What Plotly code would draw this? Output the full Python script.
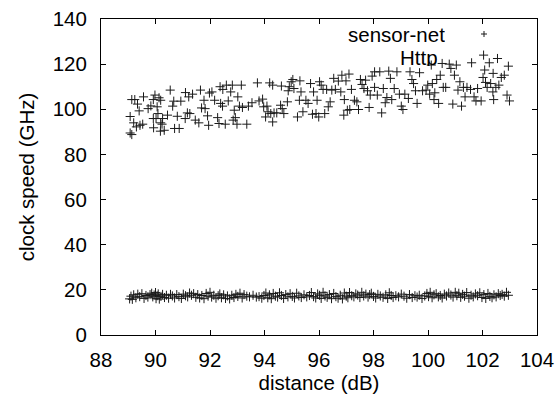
import plotly.graph_objects as go

# upper cloud ("sensor-net"): (distance dB, clock speed GHz)
sensor_net_points = [
    (89.07,89.5),(89.13,88.8),(89.07,96.8),(89.13,104.3),(89.24,104.3),(89.2,94.0),(89.3,92.2),(89.43,92.9),
    (89.53,93.4),(89.4,99.3),(89.34,102.3),(89.56,105.5),(89.73,100.3),(89.83,101.5),(89.92,104.3),(89.98,106.3),
    (89.93,91.8),(89.92,95.9),(90.02,95.9),(90.09,98.1),(90.13,105.1),(90.19,104.0),(90.06,101.1),(90.19,94.0),
    (90.26,95.9),(90.18,90.3),(90.32,90.7),(90.24,93.4),(90.54,108.5),(90.44,97.4),(90.63,101.4),(90.67,103.6),
    (90.7,91.5),(90.87,91.5),(90.8,96.9),(90.93,103.6),(91.1,107.4),(91.09,95.9),(91.17,98.4),(91.26,98.1),
    (91.22,105.5),(91.36,106.7),(91.46,95.2),(91.59,94.0),(91.65,108.5),(91.69,100.6),(91.82,100.3),(91.78,104.0),
    (91.91,97.1),(91.95,92.9),(91.98,107.2),(92.07,107.7),(92.17,104.0),(92.28,96.3),(92.33,93.7),(92.37,110.0),
    (92.39,102.6),(92.46,101.4),(92.47,108.8),(92.56,93.4),(92.6,110.7),(92.67,103.7),(92.76,107.7),(92.82,110.7),
    (92.85,95.2),(92.89,99.6),(92.93,96.3),(92.99,93.4),(93.02,105.5),(93.08,101.4),(93.15,110.7),(93.19,100.8),
    (93.35,93.4),(93.41,101.4),(93.54,102.9),(93.74,111.7),(93.8,103.7),(93.93,104.5),(93.97,101.1),(94.04,96.6),
    (94.09,101.4),(94.13,98.9),(94.19,111.7),(94.23,98.1),(94.3,94.4),(94.3,110.7),(94.35,98.4),(94.45,98.4),
    (94.59,101.8),(94.62,110.3),(94.65,100.3),(94.71,98.1),(94.84,103.3),(94.87,108.2),(94.91,110.0),(94.98,112.2),
    (95.04,113.2),(95.08,109.2),(95.21,96.6),(95.28,104.0),(95.3,112.6),(95.34,107.7),(95.41,98.9),(95.52,104.0),
    (95.6,102.6),(95.69,111.4),(95.76,97.8),(95.8,107.7),(95.89,98.1),(95.93,104.0),(95.99,96.6),(96.02,112.2),
    (96.08,110.7),(96.15,108.8),(96.21,98.1),(96.28,108.8),(96.34,101.1),(96.41,103.3),(96.47,108.5),(96.54,113.7),
    (96.6,108.8),(96.71,112.5),(96.8,107.7),(96.84,115.1),(96.91,97.4),(96.93,104.3),(96.99,112.6),(97.04,99.6),
    (97.1,115.6),(97.13,99.9),(97.19,108.8),(97.3,104.0),(97.39,103.3),(97.45,99.9),(97.52,113.2),(97.58,111.0),
    (97.65,109.2),(97.71,112.9),(97.78,108.2),(97.84,100.8),(97.88,106.3),(97.95,114.7),(98.04,116.6),(98.04,109.7),
    (98.14,106.3),(98.23,116.6),(98.3,98.4),(98.36,109.2),(98.43,102.9),(98.49,105.2),(98.56,116.9),(98.62,113.7),
    (98.67,104.3),(98.76,109.2),(98.86,116.6),(98.95,106.7),(99.02,101.4),(99.08,99.9),(99.15,106.7),(99.28,104.8),
    (99.34,116.6),(99.41,113.2),(99.47,111.4),(99.54,108.2),(99.6,102.6),(99.69,116.2),(99.8,108.2),(99.93,108.5),
    (99.99,110.7),(100.06,106.7),(100.12,119.6),(100.16,111.4),(100.22,104.3),(100.25,107.3),(100.32,113.2),(100.39,102.6),
    (100.45,115.1),(100.52,120.3),(100.56,109.7),(100.65,109.7),(100.78,120.0),(100.84,118.1),(100.91,102.3),(100.97,115.1),
    (101.04,119.6),(101.1,108.5),(101.17,112.2),(101.23,101.4),(101.3,109.7),(101.36,105.5),(101.43,109.7),(101.56,108.8),
    (101.6,120.6),(101.69,105.5),(101.76,103.7),(101.82,109.2),(101.95,103.7),(102.02,114.1),(102.04,124.0),(102.08,117.4),
    (102.11,111.9),(102.17,109.7),(102.25,120.6),(102.3,111.4),(102.38,107.7),(102.39,115.9),(102.41,104.3),(102.49,109.7),
    (102.55,122.5),(102.6,110.7),(102.69,114.1),(102.8,115.1),(102.9,106.3),(102.95,119.1),(102.99,103.7),
]

# lower band ("Http")
http_points = [
    (89.05,16.0),(89.1,17.2),(89.15,15.8),(89.2,17.8),(89.28,16.5),(89.35,18.1),(89.42,17.0),(89.5,18.3),
    (89.58,16.2),(89.65,17.5),(89.72,16.8),(89.8,17.9),(89.86,18.5),(89.9,16.9),(89.95,17.7),(90.0,18.8),
    (90.02,16.1),(90.06,17.4),(90.1,18.2),(90.14,15.9),(90.2,17.1),(90.26,18.0),(90.33,16.6),(90.4,17.6),
    (90.48,16.3),(90.55,18.0),(90.62,17.3),(90.7,16.4),(90.78,17.9),(90.86,17.0),(90.95,16.2),(91.02,18.1),
    (91.1,17.4),(91.18,16.9),(91.25,18.6),(91.32,17.6),(91.4,18.3),(91.48,16.7),(91.55,17.9),(91.62,16.4),
    (91.7,17.5),(91.78,16.1),(91.86,18.4),(91.93,17.2),(92.0,18.9),(92.06,16.8),(92.14,17.6),(92.22,16.3),
    (92.3,17.4),(92.36,18.2),(92.42,16.5),(92.5,17.8),(92.57,16.2),(92.64,17.3),(92.72,16.0),(92.8,17.6),
    (92.88,16.6),(92.95,18.0),(93.02,17.1),(93.1,18.5),(93.18,16.4),(93.25,17.9),(93.35,17.2),(93.45,16.9),
    (93.58,17.6),(93.7,16.8),(93.8,17.0),(93.9,16.3),(93.98,17.5),(94.05,18.6),(94.12,16.5),(94.18,17.8),
    (94.25,16.1),(94.32,18.4),(94.4,17.2),(94.48,16.8),(94.55,18.7),(94.62,17.5),(94.7,16.2),(94.78,17.9),
    (94.86,16.9),(94.94,18.3),(95.02,17.1),(95.1,16.4),(95.18,18.5),(95.26,17.3),(95.35,16.6),(95.45,17.8),
    (95.55,16.9),(95.65,17.5),(95.72,18.8),(95.8,17.0),(95.88,16.4),(95.95,18.2),(96.02,17.6),(96.08,16.2),
    (96.15,18.9),(96.22,17.3),(96.3,16.7),(96.38,17.9),(96.46,16.1),(96.54,18.4),(96.62,17.0),(96.7,16.3),
    (96.78,17.6),(96.86,16.0),(96.93,18.6),(97.0,17.2),(97.06,16.5),(97.12,18.8),(97.2,17.4),(97.28,16.9),
    (97.35,18.2),(97.42,17.7),(97.5,16.6),(97.57,18.9),(97.64,17.3),(97.72,18.1),(97.8,16.8),(97.86,17.9),
    (97.92,18.5),(98.0,17.1),(98.08,16.4),(98.16,18.0),(98.25,17.3),(98.35,16.7),(98.45,17.8),(98.52,16.2),
    (98.58,18.7),(98.65,17.5),(98.72,16.6),(98.82,17.4),(98.92,16.9),(99.02,18.1),(99.12,17.2),(99.22,16.3),
    (99.32,17.9),(99.42,16.6),(99.52,17.4),(99.6,16.8),(99.68,17.6),(99.78,16.2),(99.88,17.3),(99.96,18.4),
    (100.02,17.0),(100.08,18.9),(100.15,16.5),(100.22,17.8),(100.3,18.3),(100.38,16.9),(100.45,17.5),(100.52,16.4),
    (100.6,18.1),(100.68,17.3),(100.76,18.6),(100.84,17.7),(100.92,16.8),(101.0,18.9),(101.06,17.4),(101.13,18.5),
    (101.2,16.7),(101.27,18.0),(101.34,17.2),(101.42,18.8),(101.5,16.3),(101.58,17.6),(101.66,16.9),(101.74,18.2),
    (101.82,17.4),(101.9,18.7),(101.98,16.6),(102.05,17.9),(102.12,16.2),(102.2,18.4),(102.27,17.1),(102.35,16.5),
    (102.42,17.8),(102.5,16.9),(102.58,18.3),(102.65,17.5),(102.72,18.0),(102.8,17.2),(102.88,18.9),(102.95,17.6),
]

x_ticks = [88, 90, 92, 94, 96, 98, 100, 102, 104]
y_ticks = [0, 20, 40, 60, 80, 100, 120, 140]
series_names = ["sensor-net", "Http"]
x_title = "distance (dB)"
y_title = "clock speed (GHz)"

FONT = "Liberation Sans, Arial, sans-serif"
FS = 20.5
MC = "#1a1a1a"

marker = dict(symbol="cross-thin", size=6.5, line=dict(width=1, color=MC), color=MC)

fig = go.Figure()
for name, pts in zip(series_names, [sensor_net_points, http_points]):
    fig.add_trace(go.Scatter(
        x=[p[0] for p in pts], y=[p[1] for p in pts],
        mode="markers", name=name, marker=marker, showlegend=False,
    ))

axis_common = dict(
    showline=True, linecolor="black", linewidth=1, mirror="ticks",
    ticks="inside", ticklen=5, tickcolor="black", tickwidth=1,
    showgrid=False, zeroline=False, automargin=False,
    tickfont=dict(family=FONT, size=FS, color="black"),
    title_font=dict(family=FONT, size=FS, color="black"),
)

fig.update_xaxes(range=[88, 104], tickvals=x_ticks, ticktext=[str(v) for v in x_ticks],
                 title_text=x_title, title_standoff=6, ticklabelstandoff=6, **axis_common)
fig.update_yaxes(range=[0, 140], tickvals=y_ticks, ticktext=[str(v) for v in y_ticks],
                 title_text=y_title, title_standoff=12, ticklabelstandoff=9, **axis_common)

L, R, T, B = 101, 20, 19, 61
W, H = 557, 396
pw, ph = W - L - R, H - T - B

def px(xp):
    return (xp - L) / pw

def py(yp):
    return 1 - (yp - T) / ph

# key (gnuplot style: text right-justified, sample to the right)
fig.add_annotation(text=series_names[0], xref="paper", yref="paper", x=px(447), y=py(34),
                   xanchor="right", yanchor="middle", showarrow=False, height=18,
                   font=dict(family=FONT, size=FS, color="black"))
fig.add_annotation(text=series_names[1], xref="paper", yref="paper", x=px(440), y=py(57),
                   xanchor="right", yanchor="middle", showarrow=False, height=18,
                   font=dict(family=FONT, size=FS, color="black"))
cx, cy, s = 484, 34, 3
fig.add_shape(type="line", xref="paper", yref="paper", x0=px(cx - s), x1=px(cx + s), y0=py(cy), y1=py(cy),
              line=dict(color=MC, width=1))
fig.add_shape(type="line", xref="paper", yref="paper", x0=px(cx), x1=px(cx), y0=py(cy - s), y1=py(cy + s),
              line=dict(color=MC, width=1))

fig.update_layout(
    width=W, height=H, margin=dict(l=L, r=R, t=T, b=B),
    paper_bgcolor="white", plot_bgcolor="white",
    font=dict(family=FONT, size=FS, color="black"),
)

fig.write_html("out.html", config={"displayModeBar": False},
               post_script="document.body.style.margin='0';document.body.style.overflow='hidden';")
